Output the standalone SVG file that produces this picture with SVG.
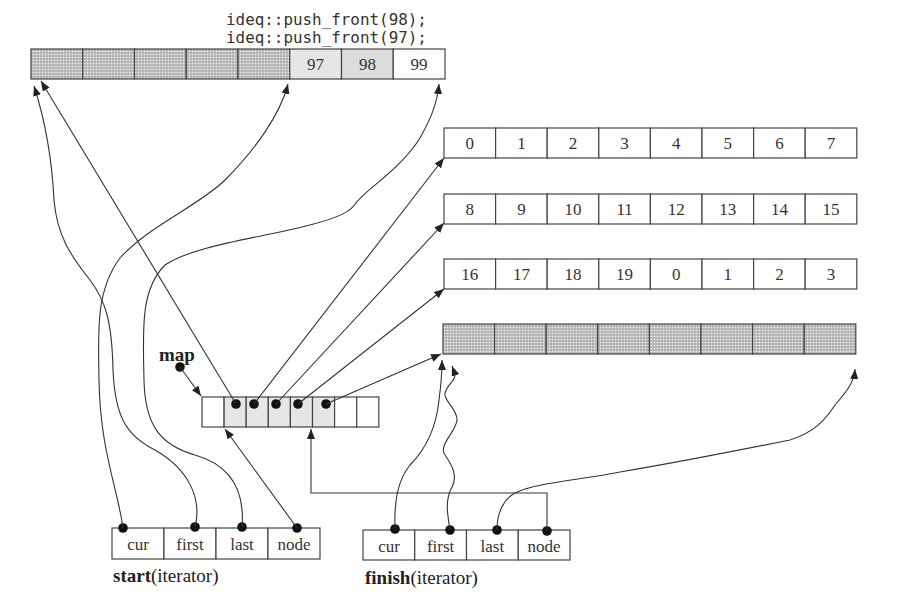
<svg xmlns="http://www.w3.org/2000/svg" width="906" height="612" viewBox="0 0 906 612">
<defs>
<pattern id="hatch" width="3" height="3" patternUnits="userSpaceOnUse">
<rect width="3" height="3" fill="#c2c2c2"/>
<rect x="0" y="0" width="1" height="1" fill="#f0f0f0"/>
<rect x="1.5" y="1.5" width="1" height="1" fill="#8a8a8a"/>
</pattern>
<marker id="ah" viewBox="0 0 10 8" refX="10" refY="4" markerWidth="10" markerHeight="8" orient="auto" markerUnits="userSpaceOnUse">
<path d="M0,0 L10,4 L0,8 z" fill="#222"/>
</marker>
</defs>
<style>
.box{fill:#fff;stroke:#444;stroke-width:1.2}
.hat{fill:url(#hatch);stroke:#444;stroke-width:1.2}
.lt{fill:#e6e6e6;stroke:#444;stroke-width:1.2}
.num{font-family:"Liberation Serif",serif;font-size:17px;fill:#333;text-anchor:middle}
.code{font-family:"DejaVu Sans Mono","Liberation Mono",monospace;font-size:15.9px;fill:#333}
.lbl{font-family:"Liberation Serif",serif;font-size:19px;fill:#222}
.conn{fill:none;stroke:#333;stroke-width:1.1;marker-end:url(#ah)}
.dot{fill:#111}
</style>
<rect width="906" height="612" fill="#fff"/>

<g id="code">
<text class="code" x="226" y="25">ideq::push_front(98);</text>
<text class="code" x="226" y="43">ideq::push_front(97);</text>
</g>

<g id="topbuf">
<rect class="hat" x="31" y="49" width="51.75" height="30"/>
<rect class="hat" x="82.75" y="49" width="51.75" height="30"/>
<rect class="hat" x="134.5" y="49" width="51.75" height="30"/>
<rect class="hat" x="186.25" y="49" width="51.75" height="30"/>
<rect class="hat" x="238" y="49" width="51.75" height="30"/>
<rect class="lt" x="289.75" y="49" width="51.75" height="30"/>
<rect class="lt" x="341.5" y="49" width="51.75" height="30" style="fill:#dcdcdc"/>
<rect class="box" x="393.25" y="49" width="51.75" height="30"/>
<text class="num" x="315.6" y="70">97</text>
<text class="num" x="367.4" y="70">98</text>
<text class="num" x="419.1" y="70">99</text>
</g>

<g id="buf1">
<rect class="box" x="444" y="128" width="51.6" height="30"/>
<rect class="box" x="495.6" y="128" width="51.6" height="30"/>
<rect class="box" x="547.2" y="128" width="51.6" height="30"/>
<rect class="box" x="598.8" y="128" width="51.6" height="30"/>
<rect class="box" x="650.4" y="128" width="51.6" height="30"/>
<rect class="box" x="702" y="128" width="51.6" height="30"/>
<rect class="box" x="753.6" y="128" width="51.6" height="30"/>
<rect class="box" x="805.2" y="128" width="51.6" height="30"/>
<text class="num" x="469.8" y="149">0</text>
<text class="num" x="521.4" y="149">1</text>
<text class="num" x="573" y="149">2</text>
<text class="num" x="624.6" y="149">3</text>
<text class="num" x="676.2" y="149">4</text>
<text class="num" x="727.8" y="149">5</text>
<text class="num" x="779.4" y="149">6</text>
<text class="num" x="831" y="149">7</text>
</g>

<g id="buf2">
<rect class="box" x="444" y="194" width="51.6" height="30"/>
<rect class="box" x="495.6" y="194" width="51.6" height="30"/>
<rect class="box" x="547.2" y="194" width="51.6" height="30"/>
<rect class="box" x="598.8" y="194" width="51.6" height="30"/>
<rect class="box" x="650.4" y="194" width="51.6" height="30"/>
<rect class="box" x="702" y="194" width="51.6" height="30"/>
<rect class="box" x="753.6" y="194" width="51.6" height="30"/>
<rect class="box" x="805.2" y="194" width="51.6" height="30"/>
<text class="num" x="469.8" y="215">8</text>
<text class="num" x="521.4" y="215">9</text>
<text class="num" x="573" y="215">10</text>
<text class="num" x="624.6" y="215">11</text>
<text class="num" x="676.2" y="215">12</text>
<text class="num" x="727.8" y="215">13</text>
<text class="num" x="779.4" y="215">14</text>
<text class="num" x="831" y="215">15</text>
</g>

<g id="buf3">
<rect class="box" x="444" y="259" width="51.6" height="30"/>
<rect class="box" x="495.6" y="259" width="51.6" height="30"/>
<rect class="box" x="547.2" y="259" width="51.6" height="30"/>
<rect class="box" x="598.8" y="259" width="51.6" height="30"/>
<rect class="box" x="650.4" y="259" width="51.6" height="30"/>
<rect class="box" x="702" y="259" width="51.6" height="30"/>
<rect class="box" x="753.6" y="259" width="51.6" height="30"/>
<rect class="box" x="805.2" y="259" width="51.6" height="30"/>
<text class="num" x="469.8" y="280">16</text>
<text class="num" x="521.4" y="280">17</text>
<text class="num" x="573" y="280">18</text>
<text class="num" x="624.6" y="280">19</text>
<text class="num" x="676.2" y="280">0</text>
<text class="num" x="727.8" y="280">1</text>
<text class="num" x="779.4" y="280">2</text>
<text class="num" x="831" y="280">3</text>
</g>

<g id="buf4">
<rect class="hat" x="443" y="324" width="51.6" height="30"/>
<rect class="hat" x="494.6" y="324" width="51.6" height="30"/>
<rect class="hat" x="546.2" y="324" width="51.6" height="30"/>
<rect class="hat" x="597.8" y="324" width="51.6" height="30"/>
<rect class="hat" x="649.4" y="324" width="51.6" height="30"/>
<rect class="hat" x="701" y="324" width="51.6" height="30"/>
<rect class="hat" x="752.6" y="324" width="51.6" height="30"/>
<rect class="hat" x="804.2" y="324" width="51.6" height="30"/>
</g>

<g id="map">
<text x="159" y="361" style="font-family:'Liberation Serif',serif;font-size:19px;font-weight:bold;fill:#222">map</text>
<circle class="dot" cx="180" cy="367" r="4.8"/>
<rect class="box" x="202" y="397" width="22.1" height="30"/>
<rect class="lt" x="224.1" y="397" width="22.1" height="30"/>
<rect class="lt" x="246.2" y="397" width="22.1" height="30"/>
<rect class="lt" x="268.3" y="397" width="22.1" height="30"/>
<rect class="lt" x="290.4" y="397" width="22.1" height="30"/>
<rect class="lt" x="312.5" y="397" width="22.1" height="30"/>
<rect class="box" x="334.6" y="397" width="22.1" height="30"/>
<rect class="box" x="356.7" y="397" width="22.1" height="30"/>
<circle class="dot" cx="236" cy="404" r="4.8"/>
<circle class="dot" cx="254" cy="404" r="4.8"/>
<circle class="dot" cx="276" cy="404" r="4.8"/>
<circle class="dot" cx="298" cy="404" r="4.8"/>
<circle class="dot" cx="326" cy="404" r="4.8"/>
</g>

<g id="start">
<rect class="box" x="112" y="528" width="52" height="31"/>
<rect class="box" x="164" y="528" width="52" height="31"/>
<rect class="box" x="216" y="528" width="52" height="31"/>
<rect class="box" x="268" y="528" width="52" height="31"/>
<text class="num" x="138" y="550">cur</text>
<text class="num" x="190" y="550">first</text>
<text class="num" x="242" y="550">last</text>
<text class="num" x="294" y="550">node</text>
<circle class="dot" cx="123" cy="528" r="4.8"/>
<circle class="dot" cx="195" cy="527" r="4.8"/>
<circle class="dot" cx="242" cy="527" r="4.8"/>
<circle class="dot" cx="297" cy="528" r="4.8"/>
<text class="lbl" x="113" y="582"><tspan font-weight="bold">start</tspan>(iterator)</text>
</g>

<g id="finish">
<rect class="box" x="363" y="530" width="51.75" height="30"/>
<rect class="box" x="414.75" y="530" width="51.75" height="30"/>
<rect class="box" x="466.5" y="530" width="51.75" height="30"/>
<rect class="box" x="518.25" y="530" width="51.75" height="30"/>
<text class="num" x="389" y="552">cur</text>
<text class="num" x="440.6" y="552">first</text>
<text class="num" x="492.4" y="552">last</text>
<text class="num" x="544.1" y="552">node</text>
<circle class="dot" cx="395" cy="529" r="4.8"/>
<circle class="dot" cx="450" cy="530" r="4.8"/>
<circle class="dot" cx="497" cy="530" r="4.8"/>
<circle class="dot" cx="547" cy="531" r="4.8"/>
<text class="lbl" x="365" y="584"><tspan font-weight="bold">finish</tspan>(iterator)</text>
</g>

<g id="connectors">
<path class="conn" d="M180,367 L201,396"/>
<path class="conn" d="M236,404 L41,81"/>
<path class="conn" d="M254,404 L444,158"/>
<path class="conn" d="M276,404 L444,223"/>
<path class="conn" d="M298,404 L444,289"/>
<path class="conn" d="M326,404 L441,354"/>
<path class="conn" d="M297,528 L225,429"/>
<path class="conn" d="M123,528 C118,490 100,450 99,380 C98,330 96,290 120,258 C150,225 200,205 225,180 C255,150 280,115 288,84"/>
<path class="conn" d="M195,527 C202,500 190,470 155,450 C125,435 115,415 113,370 C112,320 105,300 90,280 C70,255 57,235 54,200 C52,160 45,120 34,86"/>
<path class="conn" d="M242,527 C245,490 230,465 195,455 C160,445 145,425 144,380 C143,330 140,290 165,265 C195,245 260,238 310,225 C340,217 350,212 356,203 C365,190 400,170 420,138 C430,120 437,105 439,84"/>
<path class="conn" d="M547,531 V493 H311 V429"/>
<path class="conn" d="M395,529 C394,500 398,480 410,465 C425,450 436,430 439,400 C441,385 442,372 442,360"/>
<path class="conn" d="M450,530 C447,512 445,500 452,487 C458,476 452,465 445,455 C438,445 456,432 457,420 C458,410 443,400 445,393 C447,385 456,380 455,374 L452,366"/>
<path class="conn" d="M497,530 C497,515 502,500 515,493 C535,483 580,480 620,472 C680,462 740,450 790,440 C815,432 825,420 835,405 C848,390 854,382 855,369"/>
</g>
</svg>
